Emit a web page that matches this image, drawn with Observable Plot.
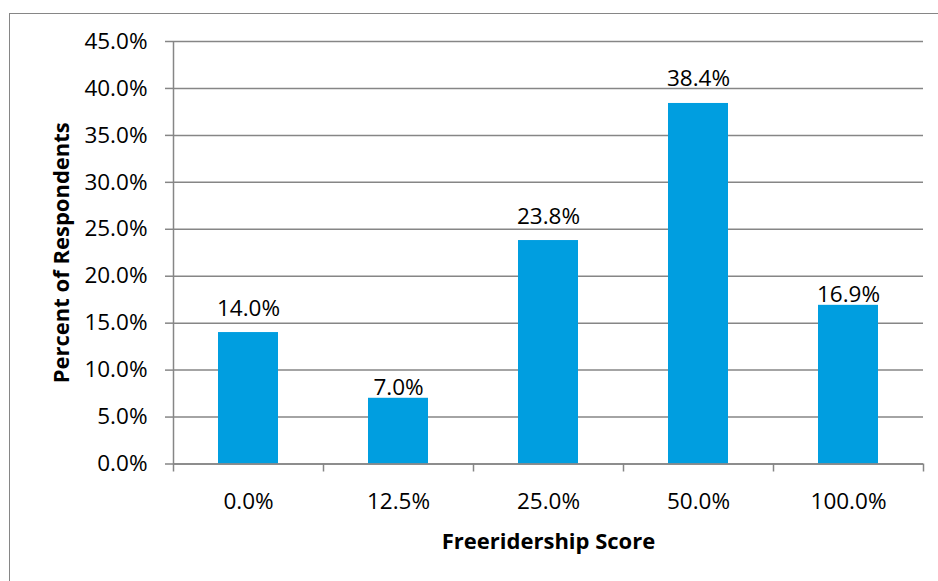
<!DOCTYPE html>
<html><head><meta charset="utf-8">
<script src="https://cdn.jsdelivr.net/npm/d3@7"></script>
<script src="https://cdn.jsdelivr.net/npm/@observablehq/plot@0.6"></script>
<style>
html,body{margin:0;padding:0;background:#fff;overflow:hidden}
#wrap{position:relative;width:938px;height:581px}
#wrap svg{position:absolute;left:0;top:0}
#border{position:absolute;left:9px;top:13px;width:1000px;height:1000px;border:1px solid #868686;box-sizing:border-box;pointer-events:none}
</style></head><body><div id="wrap"><div id="border"></div></div>
<script>
const categories = ["0.0%", "12.5%", "25.0%", "50.0%", "100.0%"];
const values = [14.0, 7.0, 23.8, 38.4, 16.9];
const yTicks = [0, 5, 10, 15, 20, 25, 30, 35, 40, 45];
const xTitle = "Freeridership Score";
const yTitle = "Percent of Respondents";

const data = categories.map((c, i) => ({i, category: c, value: values[i]}));
const fmt = v => v.toFixed(1) + "%";
// labels that would collide with a gridline sit closer to the bar
const near = d => { const lo = d.value + 1.8, hi = d.value + 3.4; return Math.floor(hi / 5) * 5 >= lo; };
const FS = 22.5;
const FB = 22;
const gray = "#868686";

const chart = Plot.plot({
  width: 938, height: 581,
  marginLeft: 173, marginRight: 15, marginTop: 41, marginBottom: 117.5,
  style: {fontFamily: "'Open Sans', sans-serif", fontSize: FS + "px", color: "#000", background: "transparent"},
  x: {type: "linear", domain: [0, categories.length]},
  y: {domain: [0, 45]},
  marks: [
    Plot.gridY(yTicks, {stroke: gray, strokeOpacity: 1, strokeWidth: 1.5}),
    Plot.rectY(data, {x1: "i", x2: d => d.i + 1, y: "value", insetLeft: 45, insetRight: 45, fill: "#009EE0"}),
    Plot.ruleX([0], {stroke: gray, strokeWidth: 1.5}),
    Plot.ruleY([0], {stroke: gray, strokeWidth: 1.5}),
    Plot.axisY({ticks: yTicks, tickSize: 8, tickPadding: 18, tickFormat: fmt, label: null, stroke: gray, strokeWidth: 1.5, fill: "#000", fontSize: FS}),
    Plot.axisX({ticks: d3.range(categories.length + 1), tickSize: 8, tickFormat: () => "", label: null, stroke: gray, strokeWidth: 1.5}),
    Plot.text(data, {x: d => d.i + 0.5, frameAnchor: "bottom", dy: 44.5, lineAnchor: "bottom", text: "category", fill: "#000", fontSize: FS}),
    Plot.text(data.filter(d => !near(d)), {x: d => d.i + 0.5, y: "value", dy: -17, lineAnchor: "bottom", text: d => fmt(d.value), fill: "#000", fontSize: FS}),
    Plot.text(data.filter(near), {x: d => d.i + 0.5, y: "value", dy: -3, lineAnchor: "bottom", text: d => fmt(d.value), fill: "#000", fontSize: FS}),
    Plot.text([xTitle], {text: d => d, frameAnchor: "bottom", dy: 84.5, lineAnchor: "bottom", fontWeight: "bold", fill: "#000", fontSize: FB}),
    Plot.text([yTitle], {text: d => d, frameAnchor: "left", rotate: -90, dx: -105, textAnchor: "middle", lineAnchor: "bottom", fontWeight: "bold", fill: "#000", fontSize: FB})
  ]
});
document.getElementById("wrap").appendChild(chart);
</script>
</body></html>
